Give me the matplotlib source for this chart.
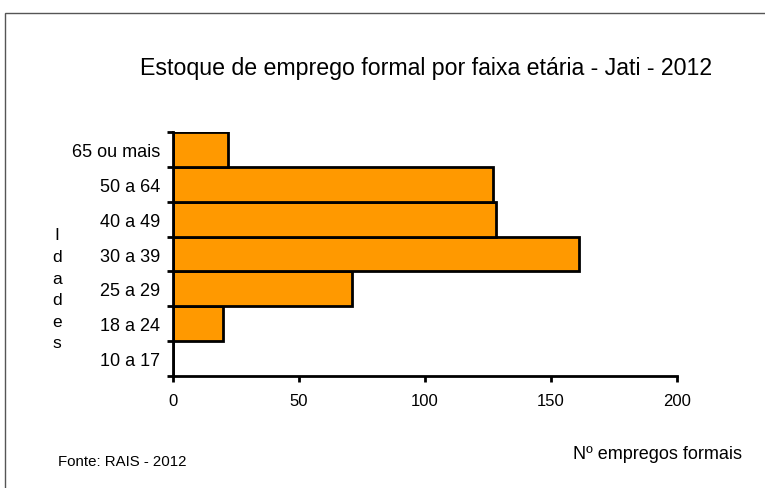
import matplotlib.pyplot as plt
from matplotlib.patches import Rectangle

faixas = ["10 a 17", "18 a 24", "25 a 29", "30 a 39", "40 a 49", "50 a 64", "65 ou mais"]
empregos = [0, 20, 71, 161, 128, 127, 22]

plt.rcParams['font.family'] = ['Liberation Sans', 'DejaVu Sans']

fig = plt.figure(figsize=(7.65, 4.89), dpi=100)

# moldura cinza do gráfico (sai pela direita/baixo)
fig.patches.append(Rectangle((5 / 765, -0.05), 1.2, 1 - 14 / 489 + 0.05,
                             transform=fig.transFigure, fill=False,
                             edgecolor="#555555", linewidth=1.0))

ax = fig.add_axes([173 / 765, 1 - 377 / 489, (677 - 173) / 765, (377 - 133) / 489])

pos = list(range(len(faixas)))
ax.barh(pos, empregos, height=1.0, color="#FF9900", edgecolor="black", linewidth=2)

ax.set_xlim(0, 200)
ax.set_ylim(-0.5, len(faixas) - 0.5)
ax.set_xticks([0, 50, 100, 150, 200])
ax.set_yticks([p - 0.5 for p in pos] + [len(faixas) - 0.5])
ax.set_yticklabels([])
ax.set_yticks(pos, minor=True)
ax.set_yticklabels(faixas, minor=True)
ax.tick_params(axis="y", which="minor", length=0, pad=9, labelsize=13)
ax.tick_params(axis="y", which="major", length=4, width=2, direction="out")
ax.tick_params(axis="x", length=4, width=2, direction="out", pad=8, labelsize=12)

for s in ["top", "right"]:
    ax.spines[s].set_visible(False)
ax.spines["left"].set_linewidth(2)
ax.spines["bottom"].set_linewidth(2)

fig.text(426 / 765, 1 - 69 / 489, "Estoque de emprego formal por faixa etária - Jati - 2012",
         ha="center", va="center", fontsize=16.7)
fig.text(57 / 765, 1 - 290 / 489, "\n".join("Idades"), ha="center", va="center",
         fontsize=12.5, linespacing=1.55)
fig.text(58 / 765, 1 - 462 / 489, "Fonte: RAIS - 2012", ha="left", va="center", fontsize=10.8)
fig.text(742 / 765, 1 - 455 / 489, "Nº empregos formais", ha="right", va="center", fontsize=13)

fig.savefig("out.png", dpi=100)
